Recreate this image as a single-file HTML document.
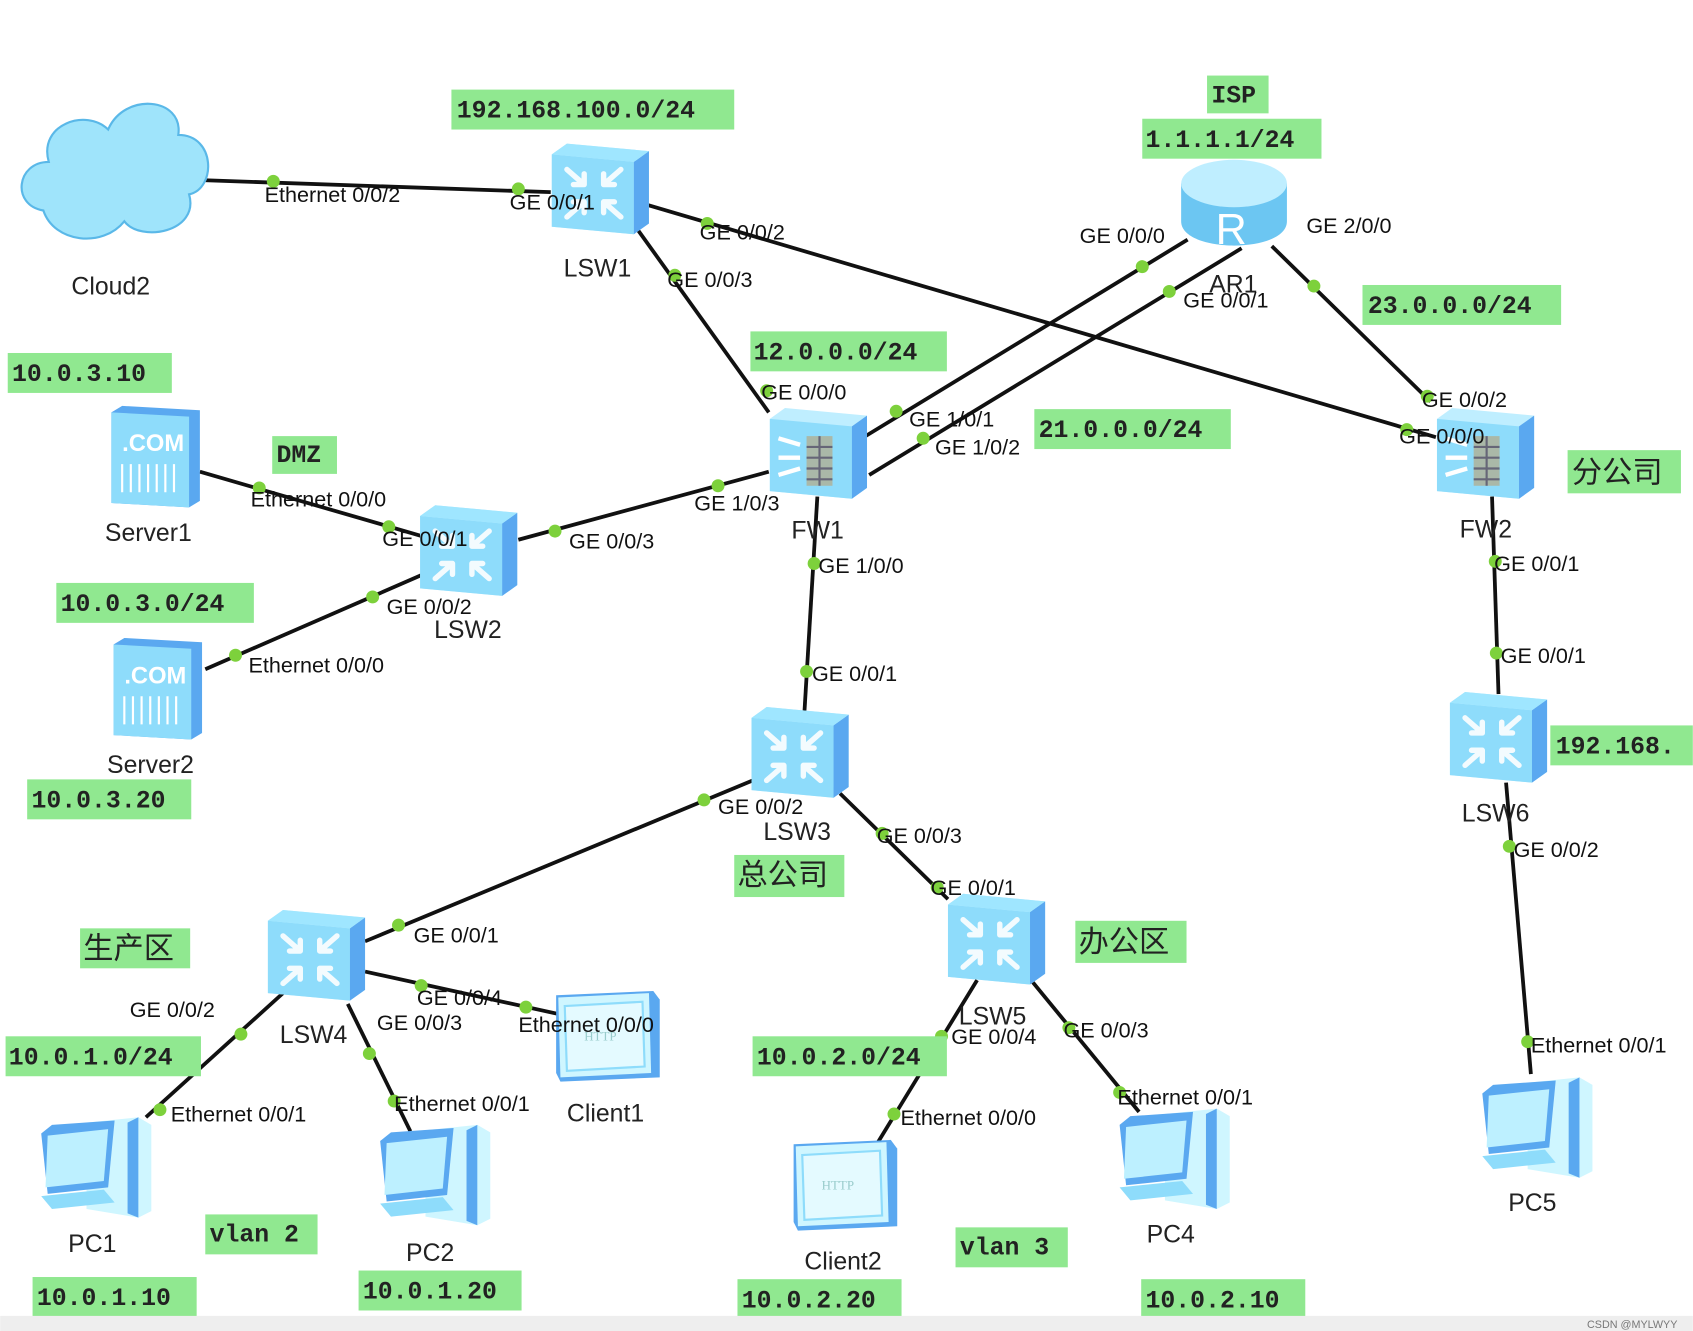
<!DOCTYPE html>
<html><head><meta charset="utf-8"><style>
html,body{margin:0;padding:0;background:#fff;}
svg{display:block;}
.p{font-family:"Liberation Sans",sans-serif;font-size:20px;fill:#111;}
.n{font-family:"Liberation Sans",sans-serif;font-size:23px;fill:#222;}
.g{font-family:"Liberation Mono",monospace;font-size:23px;fill:#222;font-weight:bold;}
.c{font-family:"Liberation Sans","Noto Sans CJK SC",sans-serif;font-size:28px;fill:#222;}
</style></head><body>
<svg width="1693" height="1331" viewBox="0 0 1568 1233" xmlns="http://www.w3.org/2000/svg">
<defs>
<g id="sw">
<polygon points="-44,-32 -30,-42 46,-35 46,32 32,42 -44,35" fill="#bfeeff"/>
<polygon points="-44,-32 32,-25 32,42 -44,35" fill="#8edcfb"/>
<polygon points="32,-25 46,-35 46,32 32,42" fill="#5aa8f0"/>
<polygon points="-44,-32 -30,-42 46,-35 32,-25" fill="#9fe6ff"/>
<g stroke="#fff" stroke-width="5" stroke-linecap="round" fill="none" opacity="0.9">
<path d="M-30,-18 L-14,-4 M-14,-4 L-14,-14 M-14,-4 L-24,-4"/>
<path d="M20,-18 L4,-4 M4,-4 L4,-14 M4,-4 L14,-4"/>
<path d="M-30,26 L-14,12 M-14,12 L-14,22 M-14,12 L-24,12"/>
<path d="M20,26 L4,12 M4,12 L4,22 M4,12 L14,12"/>
</g>
</g>
<g id="fw">
<polygon points="-44,-32 -30,-42 46,-35 46,32 32,42 -44,35" fill="#bfeeff"/>
<polygon points="-44,-32 32,-25 32,42 -44,35" fill="#8edcfb"/>
<polygon points="32,-25 46,-35 46,32 32,42" fill="#5aa8f0"/>
<g stroke="#fff" stroke-width="4"><path d="M-36,-14 L-16,-8 M-36,4 L-16,4 M-36,20 L-16,14"/></g>
<rect x="-10" y="-16" width="24" height="46" fill="#aab8a8"/>
<g stroke="#667" stroke-width="2"><path d="M-10,-6 H14 M-10,4 H14 M-10,14 H14 M-10,24 H14 M2,-16 V30"/></g>
</g>
<g id="srv">
<polygon points="-40,-40 -30,-46 42,-42 42,42 32,48 -40,44" fill="#5aa8f0"/>
<polygon points="-40,-40 32,-36 32,48 -40,44" fill="#8edcfb"/>
<text x="-30" y="-4" font-family="Liberation Sans,sans-serif" font-weight="bold" font-size="22" fill="#fff">.COM</text>
<g stroke="#fff" stroke-width="2"><path d="M-30,8 V34 M-22,8 V34 M-14,8 V34 M-6,8 V34 M2,8 V34 M10,8 V34 M18,8 V34"/></g>
</g>
<g id="pc">
<polygon points="-8,-40 40,-45 52,-38 52,42 40,48 -8,40" fill="#cff6ff"/>
<polygon points="30,-40 40,-45 40,48 30,44" fill="#5aa8f0"/>
<polygon points="-50,-30 -40,-38 18,-42 12,20 -44,26" fill="#5aa8f0"/>
<polygon points="-44,-28 12,-34 8,14 -46,20" fill="#bdf0ff"/>
<polygon points="-50,28 8,22 18,34 -40,40" fill="#8edcfb"/>
</g>
<g id="cl">
<polygon points="-48,-38 42,-42 48,-34 48,38 -44,42 -48,34" fill="#5aa8f0"/>
<polygon points="-46,-36 38,-40 40,34 -44,38" fill="#cff6ff"/>
<polygon points="-40,-28 32,-32 34,28 -38,32" fill="#e4faff" stroke="#8edcfb" stroke-width="2"/>
<text x="-22" y="4" font-family="Liberation Serif,serif" font-size="12" fill="#9cc">HTTP</text>
</g>
</defs>

<g stroke="#111" stroke-width="3.5" fill="none">
<line x1="190" y1="167" x2="510" y2="178"/>
<line x1="600" y1="190" x2="1330" y2="405"/>
<line x1="590" y1="212" x2="712" y2="382"/>
<line x1="1100" y1="222" x2="800" y2="405"/>
<line x1="1150" y1="230" x2="805" y2="440"/>
<line x1="1178" y1="228" x2="1325" y2="372"/>
<line x1="712" y1="437" x2="480" y2="500"/>
<line x1="185" y1="437" x2="392" y2="497"/>
<line x1="190" y1="620" x2="392" y2="532"/>
<line x1="757" y1="460" x2="745" y2="660"/>
<line x1="697" y1="723" x2="338" y2="872"/>
<line x1="778" y1="735" x2="878" y2="833"/>
<line x1="262" y1="920" x2="135" y2="1035"/>
<line x1="322" y1="930" x2="380" y2="1048"/>
<line x1="338" y1="900" x2="520" y2="940"/>
<line x1="905" y1="908" x2="812" y2="1060"/>
<line x1="955" y1="908" x2="1055" y2="1030"/>
<line x1="1382" y1="460" x2="1388" y2="643"/>
<line x1="1395" y1="725" x2="1418" y2="995"/>
</g>

<!-- cloud -->
<g fill="#9fe4fb" stroke="#5ab8e8" stroke-width="2">
<path d="M40,195 C10,190 15,150 45,150 C35,115 80,100 100,120 C115,85 170,90 165,125 C200,125 200,175 175,180 C185,215 130,225 115,205 C95,230 50,225 40,195 Z"/>
</g>
<use href="#sw" x="555" y="175"/>
<use href="#fw" x="757" y="420"/>
<use href="#fw" x="1375" y="420"/>
<use href="#sw" x="433" y="510"/>
<use href="#sw" x="740" y="697"/>
<use href="#sw" x="292" y="885"/>
<use href="#sw" x="922" y="870"/>
<use href="#sw" x="1387" y="683"/>
<use href="#srv" x="143" y="422"/>
<use href="#srv" x="145" y="637"/>
<use href="#pc" x="88" y="1080"/>
<use href="#pc" x="402" y="1087"/>
<use href="#pc" x="1087" y="1072"/>
<use href="#pc" x="1423" y="1043"/>
<use href="#cl" x="563" y="960"/>
<use href="#cl" x="783" y="1098"/>
<!-- router -->
<g>
<path d="M1094,170 V205 C1094,235 1192,235 1192,205 V170 Z" fill="#6cc6f2"/>
<ellipse cx="1143" cy="170" rx="49" ry="22" fill="#bfeeff"/>
<text x="1126" y="226" font-family="Liberation Sans,sans-serif" font-size="40" fill="#fff">R</text>
</g>

<g fill="#7dd13c">
<circle cx="253" cy="168" r="6"/><circle cx="480" cy="175" r="6"/><circle cx="655" cy="207" r="6"/><circle cx="625" cy="255" r="6"/>
<circle cx="1058" cy="247" r="6"/><circle cx="1083" cy="270" r="6"/><circle cx="1217" cy="265" r="6"/><circle cx="1322" cy="367" r="6"/>
<circle cx="1303" cy="398" r="6"/><circle cx="710" cy="362" r="6"/><circle cx="830" cy="381" r="6"/><circle cx="855" cy="406" r="6"/>
<circle cx="665" cy="450" r="6"/><circle cx="514" cy="492" r="6"/><circle cx="240" cy="452" r="6"/><circle cx="360" cy="488" r="6"/>
<circle cx="345" cy="553" r="6"/><circle cx="218" cy="607" r="6"/><circle cx="754" cy="522" r="6"/><circle cx="747" cy="622" r="6"/>
<circle cx="652" cy="741" r="6"/><circle cx="369" cy="857" r="6"/><circle cx="817" cy="772" r="6"/><circle cx="868" cy="822" r="6"/>
<circle cx="223" cy="958" r="6"/><circle cx="148" cy="1028" r="6"/><circle cx="342" cy="976" r="6"/><circle cx="365" cy="1020" r="6"/>
<circle cx="390" cy="913" r="6"/><circle cx="487" cy="933" r="6"/><circle cx="872" cy="960" r="6"/><circle cx="828" cy="1032" r="6"/>
<circle cx="990" cy="952" r="6"/><circle cx="1037" cy="1012" r="6"/><circle cx="1385" cy="520" r="6"/><circle cx="1386" cy="605" r="6"/>
<circle cx="1398" cy="784" r="6"/><circle cx="1415" cy="965" r="6"/>
</g>

<g fill="#90e890">
<rect x="418" y="83" width="262" height="37"/><rect x="1118" y="70" width="57" height="35"/><rect x="1058" y="110" width="166" height="37"/>
<rect x="1262" y="264" width="184" height="37"/><rect x="695" y="307" width="182" height="37"/><rect x="958" y="379" width="182" height="37"/>
<rect x="7" y="327" width="152" height="37"/><rect x="252" y="404" width="60" height="35"/><rect x="52" y="540" width="183" height="37"/>
<rect x="25" y="722" width="152" height="37"/><rect x="1452" y="417" width="105" height="40"/><rect x="1436" y="672" width="132" height="37"/>
<rect x="680" y="792" width="102" height="39"/><rect x="74" y="860" width="102" height="37"/><rect x="996" y="853" width="103" height="39"/>
<rect x="5" y="960" width="181" height="37"/><rect x="697" y="960" width="180" height="37"/><rect x="190" y="1125" width="104" height="37"/>
<rect x="885" y="1137" width="104" height="37"/><rect x="30" y="1183" width="152" height="37"/><rect x="332" y="1177" width="151" height="37"/>
<rect x="683" y="1185" width="152" height="37"/><rect x="1057" y="1185" width="152" height="37"/>
</g>
<g class="g">
<text x="423" y="109">192.168.100.0/24</text><text x="1122" y="95">ISP</text><text x="1061" y="136">1.1.1.1/24</text>
<text x="1267" y="290">23.0.0.0/24</text><text x="698" y="333">12.0.0.0/24</text><text x="962" y="405">21.0.0.0/24</text>
<text x="11" y="353">10.0.3.10</text><text x="256" y="428">DMZ</text><text x="56" y="566">10.0.3.0/24</text>
<text x="29" y="748">10.0.3.20</text><text x="1441" y="698">192.168.</text>
<text x="8" y="986">10.0.1.0/24</text><text x="701" y="986">10.0.2.0/24</text><text x="194" y="1150">vlan 2</text>
<text x="889" y="1162">vlan 3</text><text x="34" y="1209">10.0.1.10</text><text x="336" y="1203">10.0.1.20</text>
<text x="687" y="1211">10.0.2.20</text><text x="1061" y="1211">10.0.2.10</text>
</g>
<g class="c">
<text x="1456" y="447">分公司</text><text x="683" y="820">总公司</text><text x="77" y="888">生产区</text><text x="999" y="882">办公区</text>
</g>
<g class="n">
<text x="66" y="273">Cloud2</text><text x="522" y="256">LSW1</text><text x="1120" y="271">AR1</text><text x="733" y="499">FW1</text>
<text x="1352" y="498">FW2</text><text x="402" y="591">LSW2</text><text x="97" y="501">Server1</text><text x="99" y="716">Server2</text>
<text x="707" y="778">LSW3</text><text x="259" y="966">LSW4</text><text x="888" y="949">LSW5</text><text x="1354" y="761">LSW6</text>
<text x="63" y="1160">PC1</text><text x="376" y="1168">PC2</text><text x="525" y="1039">Client1</text><text x="745" y="1176">Client2</text>
<text x="1062" y="1151">PC4</text><text x="1397" y="1122">PC5</text>
</g>
<g class="p">
<text x="245" y="187">Ethernet 0/0/2</text><text x="472" y="194">GE 0/0/1</text><text x="648" y="222">GE 0/0/2</text><text x="618" y="266">GE 0/0/3</text>
<text x="1000" y="225">GE 0/0/0</text><text x="1096" y="285">GE 0/0/1</text><text x="1210" y="216">GE 2/0/0</text><text x="1317" y="377">GE 0/0/2</text>
<text x="1296" y="411">GE 0/0/0</text><text x="705" y="370">GE 0/0/0</text><text x="842" y="395">GE 1/0/1</text><text x="866" y="421">GE 1/0/2</text>
<text x="643" y="473">GE 1/0/3</text><text x="527" y="508">GE 0/0/3</text><text x="232" y="469">Ethernet 0/0/0</text><text x="354" y="506">GE 0/0/1</text>
<text x="358" y="569">GE 0/0/2</text><text x="230" y="623">Ethernet 0/0/0</text><text x="758" y="531">GE 1/0/0</text><text x="752" y="631">GE 0/0/1</text>
<text x="665" y="754">GE 0/0/2</text><text x="383" y="873">GE 0/0/1</text><text x="812" y="781">GE 0/0/3</text><text x="862" y="829">GE 0/0/1</text>
<text x="120" y="942">GE 0/0/2</text><text x="158" y="1039">Ethernet 0/0/1</text><text x="349" y="954">GE 0/0/3</text><text x="365" y="1029">Ethernet 0/0/1</text>
<text x="386" y="931">GE 0/0/4</text><text x="480" y="956">Ethernet 0/0/0</text><text x="881" y="967">GE 0/0/4</text><text x="834" y="1042">Ethernet 0/0/0</text>
<text x="985" y="961">GE 0/0/3</text><text x="1035" y="1023">Ethernet 0/0/1</text><text x="1384" y="529">GE 0/0/1</text><text x="1390" y="614">GE 0/0/1</text>
<text x="1402" y="794">GE 0/0/2</text><text x="1418" y="975">Ethernet 0/0/1</text>
</g>
<rect x="0" y="1219" width="1568" height="14" fill="#eeeeee"/>
<text x="1470" y="1230" font-family="Liberation Sans,sans-serif" font-size="10" fill="#777">CSDN @MYLWYY</text>
</svg>
</body></html>
